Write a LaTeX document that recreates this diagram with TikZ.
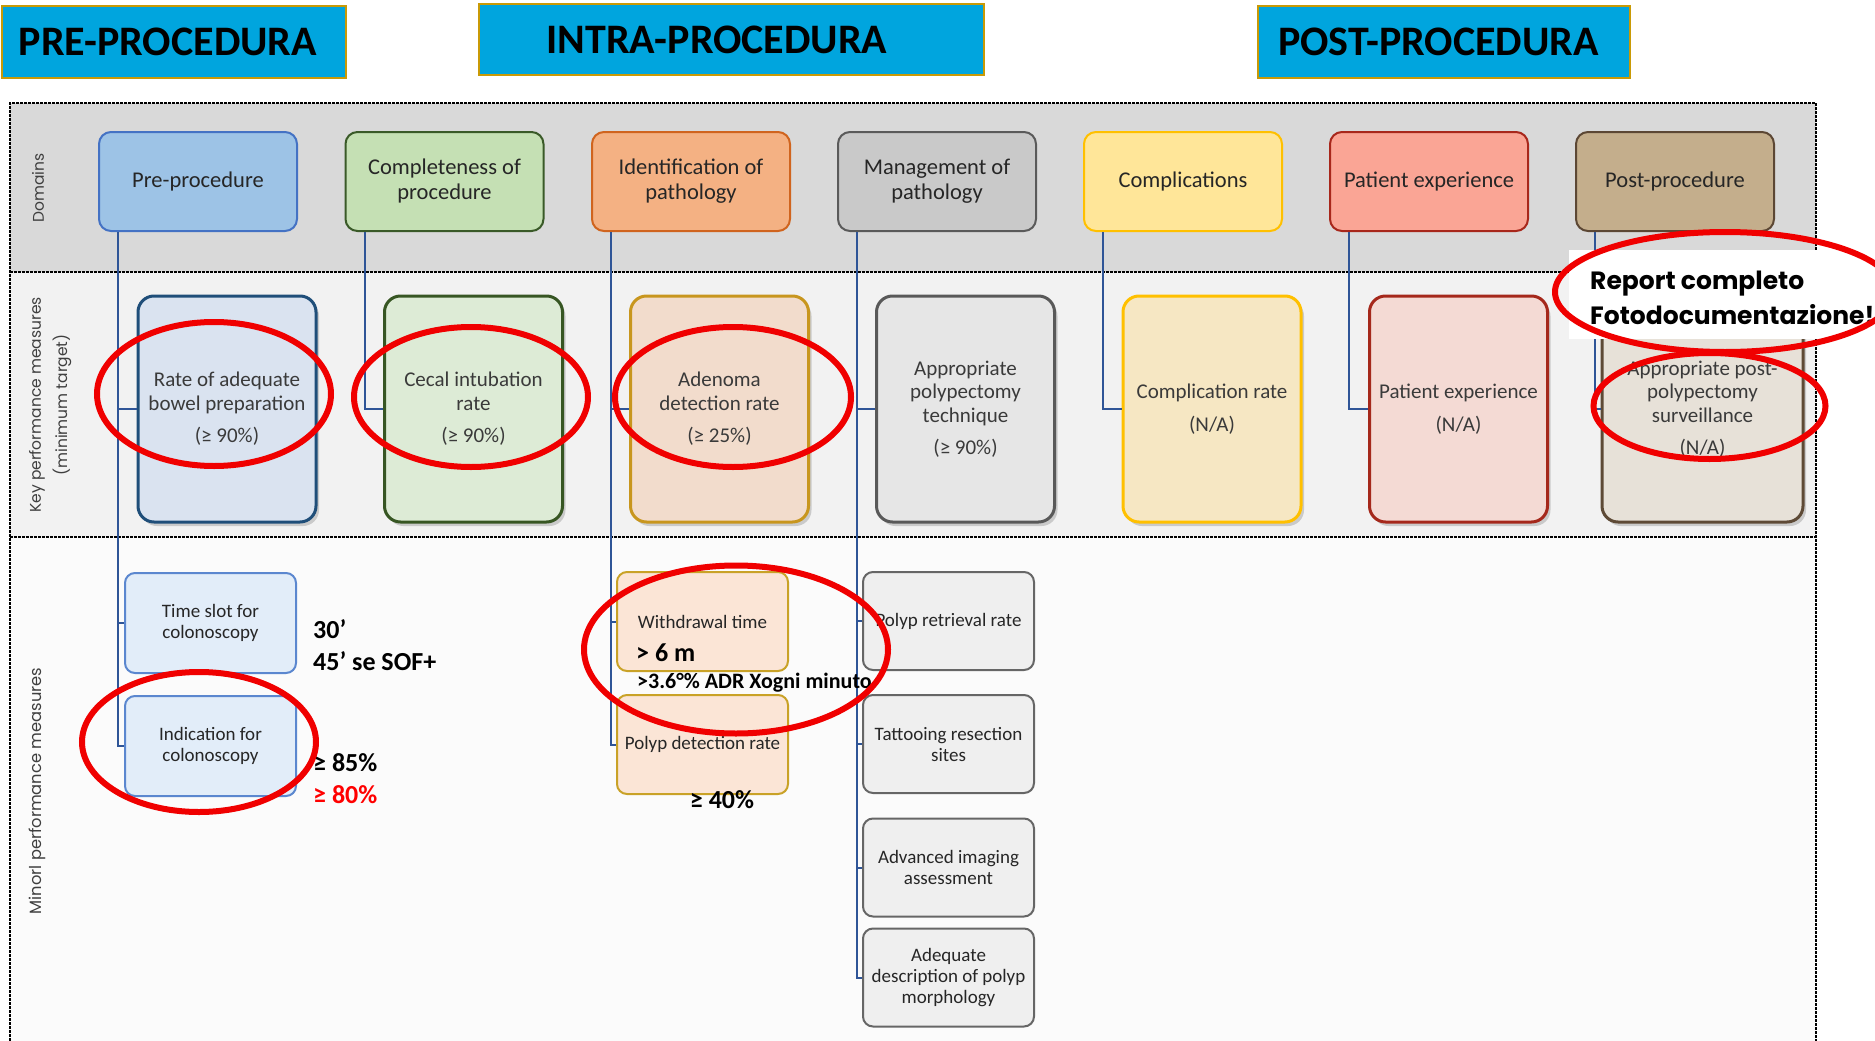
\documentclass[tikz,border=0pt]{standalone}
\usepackage{fontspec}
\setmainfont{Carlito}
\newfontfamily\popfont{Poppins}
\usetikzlibrary{shadows}
\newcommand\myfs[2]{\fontsize{#1}{#2}\selectfont}
\definecolor{bannerblue}{HTML}{00A5DE}
\definecolor{bannergold}{HTML}{C99A06}
\definecolor{bandA}{HTML}{D9D9D9}
\definecolor{bandB}{HTML}{F2F2F2}
\definecolor{bandC}{HTML}{FBFBFB}
\definecolor{connblue}{HTML}{2F5597}
\definecolor{ringred}{HTML}{F00000}
\definecolor{txtdark}{HTML}{262626}
\definecolor{txtgray}{HTML}{3A3A3A}
\definecolor{lbl}{HTML}{3F3F3F}
% domain colours
\definecolor{dAf}{HTML}{9DC3E6}\definecolor{dAd}{HTML}{4472C4}
\definecolor{dBf}{HTML}{C5E0B4}\definecolor{dBd}{HTML}{3A5A28}
\definecolor{dCf}{HTML}{F4B183}\definecolor{dCd}{HTML}{D0641E}
\definecolor{dDf}{HTML}{C9C9C9}\definecolor{dDd}{HTML}{5A5A5A}
\definecolor{dEf}{HTML}{FFE699}\definecolor{dEd}{HTML}{FFC000}
\definecolor{dFf}{HTML}{FAA595}\definecolor{dFd}{HTML}{A8271B}
\definecolor{dGf}{HTML}{C4AE8C}\definecolor{dGd}{HTML}{5C4734}
% kpm colours
\definecolor{kAf}{HTML}{DAE3F0}\definecolor{kAd}{HTML}{1F4E79}
\definecolor{kBf}{HTML}{DDEBD6}\definecolor{kBd}{HTML}{375623}
\definecolor{kCf}{HTML}{F2DCCC}\definecolor{kCd}{HTML}{C8961E}
\definecolor{kDf}{HTML}{E6E6E6}\definecolor{kDd}{HTML}{595959}
\definecolor{kEf}{HTML}{F6E7C3}\definecolor{kEd}{HTML}{FFC000}
\definecolor{kFf}{HTML}{F4DAD4}\definecolor{kFd}{HTML}{A5281B}
\definecolor{kGf}{HTML}{E7E1D8}\definecolor{kGd}{HTML}{5E4A36}
% minor colours
\definecolor{mAf}{HTML}{E2EDF9}\definecolor{mAd}{HTML}{5B87CF}
\definecolor{mBf}{HTML}{FBE5D6}\definecolor{mBd}{HTML}{C9A227}
\definecolor{mCf}{HTML}{EFEFEF}\definecolor{mCd}{HTML}{666666}
\begin{document}
\begin{tikzpicture}[x=1pt,y=-1pt,
  banner/.style={draw=bannergold, fill=bannerblue, line width=2.5pt, font=\bfseries\myfs{42}{42}, text=black},
  dom/.style={draw, rounded corners=12pt, line width=2pt, minimum width=198pt, minimum height=99pt, align=center, font=\myfs{22.5}{25}, text=txtdark},
  kpm/.style={draw, rounded corners=16pt, line width=3pt, minimum width=178pt, minimum height=226pt, align=center, font=\myfs{21}{23.5}, text=txtgray, drop shadow={shadow xshift=3pt, shadow yshift=-4pt, opacity=0.35}},
  minorbox/.style={draw, rounded corners=10pt, line width=2pt, minimum width=171pt, minimum height=99pt, align=center, font=\myfs{19}{21}, text=txtdark},
  conn/.style={draw=connblue, line width=2pt},
  ring/.style={draw=ringred, line width=6pt},
  frameline/.style={draw=black, line width=2pt, dash pattern=on 3pt off 1pt},
  sidelabel/.style={rotate=90, font=\popfont\myfs{15.5}{19}, text=lbl},
  note/.style={font=\bfseries\myfs{26}{26}, text=black, inner sep=0pt}
]
\useasboundingbox (0,0) rectangle (1875,1041);
\clip (0,0) rectangle (1875,1041);
\fill[white] (0,0) rectangle (1875,1041);

% bands
\fill[bandA] (10,103) rectangle (1816,272);
\fill[bandB] (10,272) rectangle (1816,537);
\fill[bandC] (10,537) rectangle (1816,1045);
\draw[frameline] (10,1045) -- (10,103) -- (1816,103) -- (1816,1045);
\draw[frameline] (10,272) -- (1816,272);
\draw[frameline] (10,537) -- (1816,537);

% banners
\node[banner, minimum width=344pt, minimum height=72pt] (bpre) at (174,42) {PRE-PROCEDURA\hspace*{12pt}};
\node[banner, minimum width=505pt, minimum height=71pt] (bintra) at (731.5,39.5) {INTRA-PROCEDURA\hspace*{29pt}};
\node[banner, minimum width=372pt, minimum height=72pt] (bpost) at (1444,42) {POST-PROCEDURA\hspace*{11pt}};

% side labels
\node[sidelabel] (lDom) at (38,188) {Domains};
\node[sidelabel] (lKey) at (37,405) {Key performance measures};
\node[sidelabel] (lMin) at (62,405) {(minimum target)};
\node[sidelabel, font=\popfont\myfs{16.3}{19}] (lMinor) at (37,791) {Minorl performance measures};

% domain boxes
\node[dom, fill=dAf, draw=dAd] (d1) at (198,181.5) {Pre-procedure};
\node[dom, fill=dBf, draw=dBd] (d2) at (444.5,181.5) {Completeness of\\procedure};
\node[dom, fill=dCf, draw=dCd] (d3) at (691,181.5) {Identification of\\pathology};
\node[dom, fill=dDf, draw=dDd] (d4) at (937,181.5) {Management of\\pathology};
\node[dom, fill=dEf, draw=dEd] (d5) at (1183,181.5) {Complications};
\node[dom, fill=dFf, draw=dFd] (d6) at (1429,181.5) {Patient experience};
\node[dom, fill=dGf, draw=dGd] (d7) at (1675,181.5) {Post-procedure};

% kpm boxes
\node[kpm, fill=kAf, draw=kAd] (k1) at (227,409) {Rate of adequate\\bowel preparation\\[9pt](≥ 90\%)};
\node[kpm, fill=kBf, draw=kBd] (k2) at (473.5,409) {Cecal intubation\\rate\\[9pt](≥ 90\%)};
\node[kpm, fill=kCf, draw=kCd] (k3) at (719.5,409) {Adenoma\\detection rate\\[9pt](≥ 25\%)};
\node[kpm, fill=kDf, draw=kDd] (k4) at (965.5,409) {Appropriate\\polypectomy\\technique\\[9pt](≥ 90\%)};
\node[kpm, fill=kEf, draw=kEd] (k5) at (1212,409) {Complication rate\\[9pt](N/A)};
\node[kpm, fill=kFf, draw=kFd] (k6) at (1458.5,409) {Patient experience\\[9pt](N/A)};
\node[kpm, fill=kGf, draw=kGd, minimum width=201pt] (k7) at (1702.5,409) {Appropriate post-\\polypectomy\\surveillance\\[9pt](N/A)};

% minor boxes
\node[minorbox, fill=mAf, draw=mAd, minimum height=100pt] (m1) at (210.5,623) {Time slot for\\colonoscopy};
\node[minorbox, fill=mAf, draw=mAd, minimum height=100pt] (m2) at (210.5,746) {Indication for\\colonoscopy};
\node[minorbox, fill=mBf, draw=mBd] (m3) at (702.5,621.5) {Withdrawal time};
\node[minorbox, fill=mBf, draw=mBd] (m4) at (702.5,744.5) {Polyp detection rate};
\node[minorbox, fill=mCf, draw=mCd, minimum height=98pt] (m5) at (948.5,621) {Polyp retrieval rate};
\node[minorbox, fill=mCf, draw=mCd, minimum height=98pt] (m6) at (948.5,744) {Tattooing resection\\sites};
\node[minorbox, fill=mCf, draw=mCd, minimum height=98pt] (m7) at (948.5,867.5) {Advanced imaging\\assessment};
\node[minorbox, fill=mCf, draw=mCd, minimum height=98pt] (m8) at (948.5,977.5) {Adequate\\description of polyp\\morphology};

% connectors
\draw[conn] ([xshift=20pt]d1.south west) |- (k1.west);
\draw[conn] ([xshift=20pt]d1.south west) |- (m1.west);
\draw[conn] ([xshift=20pt]d1.south west) |- (m2.west);
\draw[conn] ([xshift=20pt]d2.south west) |- (k2.west);
\draw[conn] ([xshift=20pt]d3.south west) |- (k3.west);
\draw[conn] ([xshift=20pt]d3.south west) |- (m3.west);
\draw[conn] ([xshift=20pt]d3.south west) |- (m4.west);
\draw[conn] ([xshift=20pt]d4.south west) |- (k4.west);
\draw[conn] ([xshift=20pt]d4.south west) |- (m5.west);
\draw[conn] ([xshift=20pt]d4.south west) |- (m6.west);
\draw[conn] ([xshift=20pt]d4.south west) |- (m7.west);
\draw[conn] ([xshift=20pt]d4.south west) |- (m8.west);
\draw[conn] ([xshift=20pt]d5.south west) |- (k5.west);
\draw[conn] ([xshift=20pt]d6.south west) |- (k6.west);
\draw[conn] ([xshift=20pt]d7.south west) |- (k7.west);

% annotations
\node[note, anchor=west] (n30) at (313,629) {30’};
\node[note, anchor=west] (n45) at (313,661) {45’ se SOF+};
\node[note, anchor=west] (n85) at (313,763) {≥ 85\%};
\node[note, anchor=west, text=red] (n80) at (313,795) {≥ 80\%};
\node[note, anchor=west] (n6m) at (636,653) {> 6 m};
\node[note, anchor=west, font=\bfseries\myfs{22}{22}] (nadr) at (637,683) {>3.6°\% ADR Xogni minuto};
\node[note] (n40) at (722,800) {≥ 40\%};

% report completo
\node[fill=white, anchor=north west, minimum width=310pt, minimum height=89pt, inner sep=0pt] (repbg) at (1569,250) {};
\node[anchor=base west, inner sep=0pt, font=\popfont\bfseries\myfs{25}{25}] (rep1) at (1590,289) {Report completo};
\node[anchor=base west, inner sep=0pt, font=\popfont\bfseries\myfs{25}{25}] (rep2) at (1590,324) {Fotodocumentazione!};

% red rings
\draw[ring] (214,394) ellipse [x radius=117, y radius=72];
\draw[ring] (471,397) ellipse [x radius=117, y radius=70];
\draw[ring] (733,397) ellipse [x radius=118, y radius=70];
\draw[ring] (1725,292) ellipse [x radius=170, y radius=60];
\draw[ring] (1709.5,406) ellipse [x radius=116, y radius=53];
\draw[ring] (199,742) ellipse [x radius=117, y radius=70];
\draw[ring] (736,649.5) ellipse [x radius=152, y radius=84];
\end{tikzpicture}
\end{document}
